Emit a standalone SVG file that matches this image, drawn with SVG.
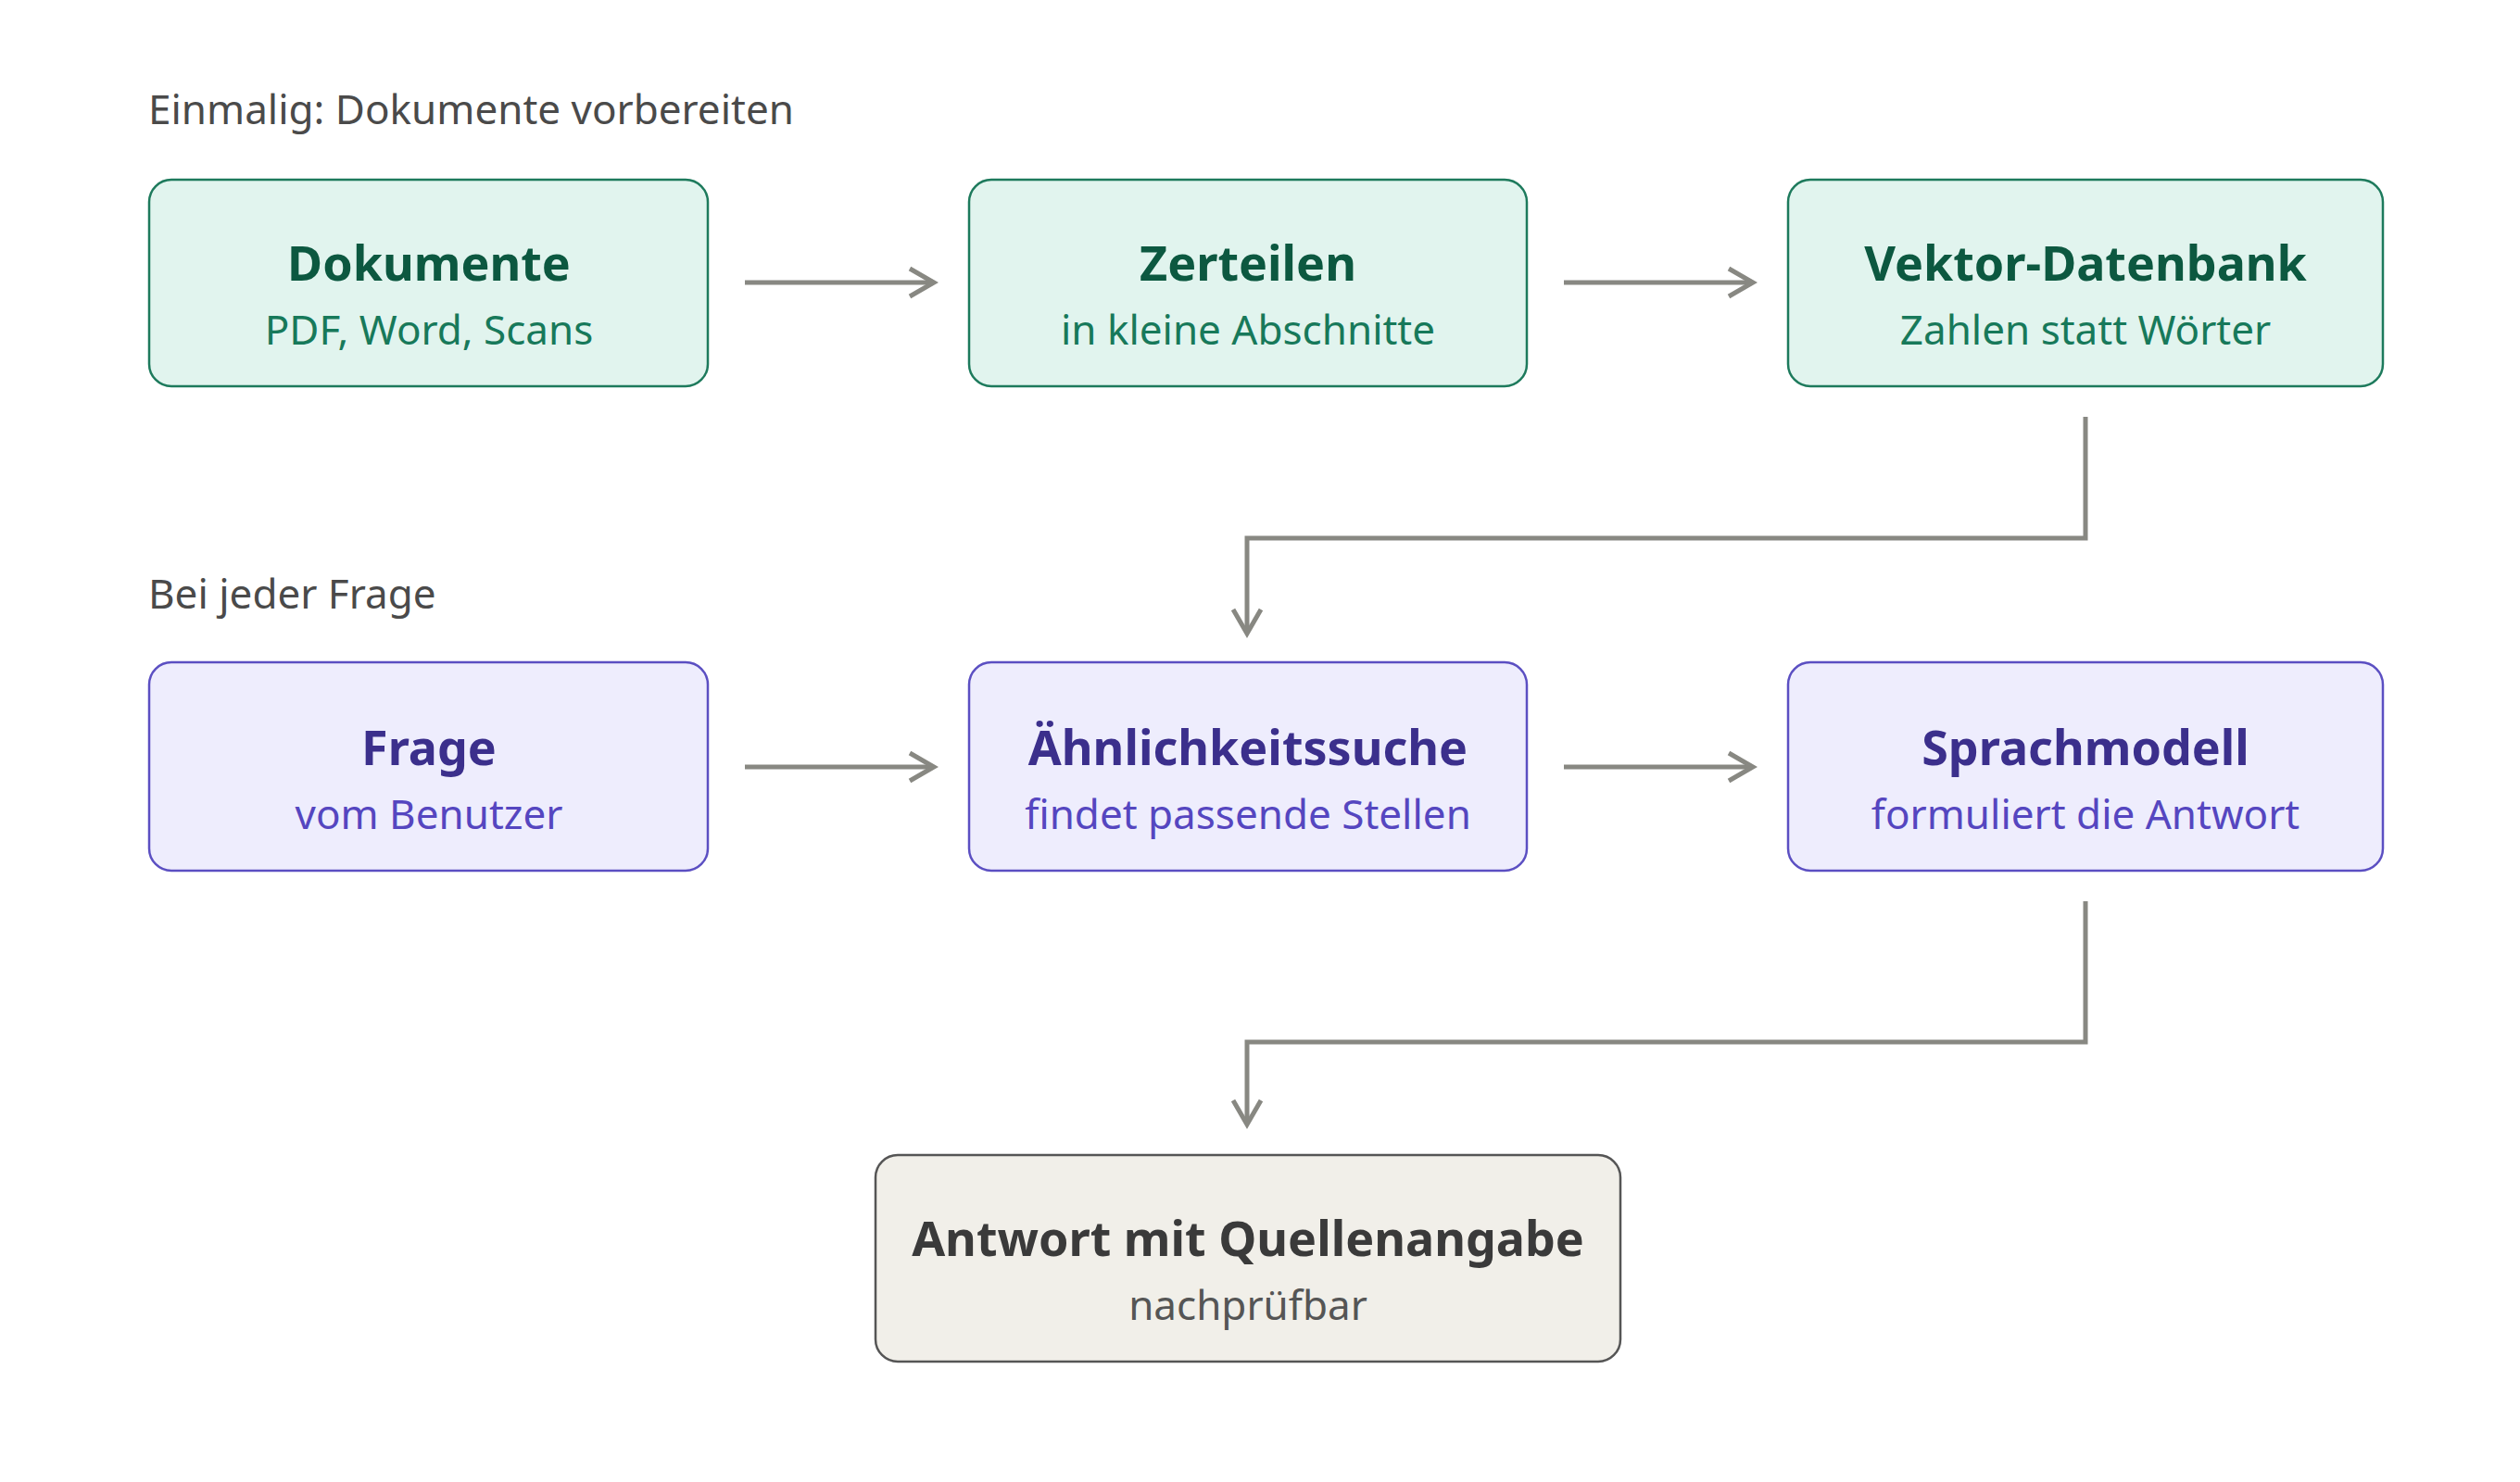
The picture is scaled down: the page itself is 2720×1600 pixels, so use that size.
<svg xmlns="http://www.w3.org/2000/svg" width="2720" height="1600" viewBox="0 0 2720 1600">
<defs>
<marker id="ah" markerWidth="12" markerHeight="12" refX="10" refY="6" orient="auto" markerUnits="userSpaceOnUse" viewBox="0 0 12 12"><path d="M0,0 L10,6 L0,12" fill="none" stroke="#888882" stroke-width="2"/></marker>
<marker id="ah2" markerWidth="36" markerHeight="36" refX="30" refY="18" orient="auto" markerUnits="userSpaceOnUse"><path d="M4,3 L30,18 L4,33" fill="none" stroke="#888882" stroke-width="5"/></marker>
</defs>
<style>
text{font-family:"Noto Sans","Open Sans",sans-serif;text-anchor:middle}
.t{font-size:52px;font-weight:bold}
.s{font-size:44px}
.h{font-size:44px;fill:#4a4a4a;text-anchor:start}
.g rect{fill:#e1f4ee;stroke:#1d7a5c;stroke-width:2.5}
.g .t{fill:#0c5840}.g .s{fill:#17795a}
.p rect{fill:#eeedfd;stroke:#5b4fc2;stroke-width:2.5}
.p .t{fill:#3b2f8c}.p .s{fill:#5546c0}
.b rect{fill:#f1efe9;stroke:#555;stroke-width:2.5}
.b .t{fill:#3a3a3a}.b .s{fill:#555}
.c path{fill:none;stroke:#888882;stroke-width:5;marker-end:url(#ah2)}
</style>
<rect width="2720" height="1600" fill="#fff"/>
<text class="h" x="160" y="134">Einmalig: Dokumente vorbereiten</text>
<text class="h" x="160" y="657">Bei jeder Frage</text>
<g id="dokumente" class="g"><rect x="161" y="194" width="603" height="223" rx="24"/><text class="t" x="463" y="303">Dokumente</text><text class="s" x="463" y="372">PDF, Word, Scans</text></g>
<g id="zerteilen" class="g"><rect x="1046" y="194" width="602" height="223" rx="24"/><text class="t" x="1347" y="303">Zerteilen</text><text class="s" x="1347" y="372">in kleine Abschnitte</text></g>
<g id="vektor" class="g"><rect x="1930" y="194" width="642" height="223" rx="24"/><text class="t" x="2251" y="303">Vektor-Datenbank</text><text class="s" x="2251" y="372">Zahlen statt Wörter</text></g>
<g id="frage" class="p"><rect x="161" y="715" width="603" height="225" rx="24"/><text class="t" x="463" y="826">Frage</text><text class="s" x="463" y="895">vom Benutzer</text></g>
<g id="suche" class="p"><rect x="1046" y="715" width="602" height="225" rx="24"/><text class="t" x="1347" y="826">Ähnlichkeitssuche</text><text class="s" x="1347" y="895">findet passende Stellen</text></g>
<g id="sprachmodell" class="p"><rect x="1930" y="715" width="642" height="225" rx="24"/><text class="t" x="2251" y="826">Sprachmodell</text><text class="s" x="2251" y="895">formuliert die Antwort</text></g>
<g id="antwort" class="b"><rect x="945" y="1247" width="804" height="223" rx="24"/><text class="t" x="1347" y="1356">Antwort mit Quellenangabe</text><text class="s" x="1347" y="1425">nachprüfbar</text></g>
<g id="connectors" class="c">
<path d="M804,305 H1008"/>
<path d="M1688,305 H1892"/>
<path d="M804,828 H1008"/>
<path d="M1688,828 H1892"/>
<path d="M2251,450 V581 H1346 V684"/>
<path d="M2251,973 V1125 H1346 V1214"/>
</g>
</svg>
